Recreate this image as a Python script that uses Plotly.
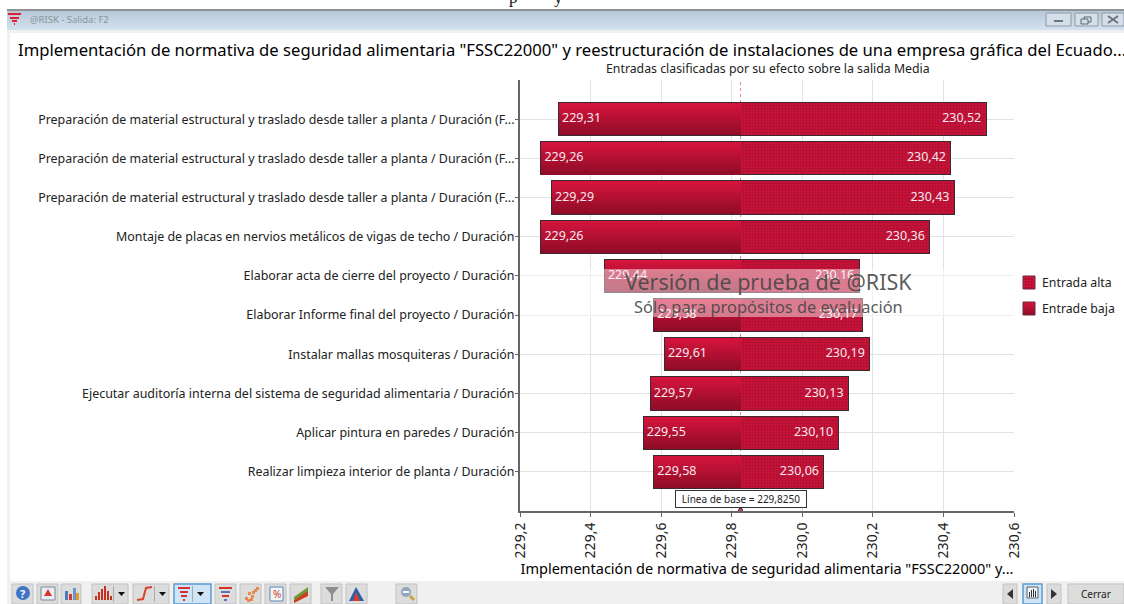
import plotly.graph_objects as go

W, H = 1124, 604
FONT = "Noto Sans"

title_text = 'Implementación de normativa de seguridad alimentaria "FSSC22000" y reestructuración de instalaciones de una empresa gráfica del Ecuado...'
subtitle_text = "Entradas clasificadas por su efecto sobre la salida Media"
axis_title = 'Implementación de normativa de seguridad alimentaria "FSSC22000" y...'
prep = "Preparación de material estructural y traslado desde taller a planta / Duración (F..."
categories = [
    prep, prep, prep,
    "Montaje de placas en nervios metálicos de vigas de techo / Duración",
    "Elaborar acta de cierre del proyecto / Duración",
    "Elaborar Informe final del proyecto / Duración",
    "Instalar mallas mosquiteras / Duración",
    "Ejecutar auditoría interna del sistema de seguridad alimentaria / Duración",
    "Aplicar pintura en paredes / Duración",
    "Realizar limpieza interior de planta / Duración",
]
low_values = [229.31, 229.26, 229.29, 229.26, 229.44, 229.58, 229.61, 229.57, 229.55, 229.58]
high_values = [230.52, 230.42, 230.43, 230.36, 230.16, 230.17, 230.19, 230.13, 230.10, 230.06]
baseline = 229.825
x_ticks = [229.2, 229.4, 229.6, 229.8, 230.0, 230.2, 230.4, 230.6]
x_tick_labels = ["229,2", "229,4", "229,6", "229,8", "230,0", "230,2", "230,4", "230,6"]
positions = list(range(len(categories)))
legend_high = "Entrada alta"
legend_low = "Entrade baja"


def fmt(v):
    return f"{v:.2f}".replace(".", ",")


def px(x):
    return x / W


def py(y):
    return 1 - y / H


shapes = []


def rect(x0, y0, x1, y1, fill, line=None, lw=1, layer="below"):
    shapes.append(dict(type="rect", xref="paper", yref="paper", layer=layer,
                       x0=px(x0), x1=px(x1), y0=py(y0), y1=py(y1), fillcolor=fill,
                       line=dict(color=line or "rgba(0,0,0,0)", width=lw if line else 0)))


def poly(pts, fill="rgba(0,0,0,0)", line=None, lw=1, closed=True):
    d = "M " + " L ".join(f"{px(a):.5f},{py(b):.5f}" for a, b in pts) + (" Z" if closed else "")
    shapes.append(dict(type="path", xref="paper", yref="paper", layer="below", path=d,
                       fillcolor=fill, line=dict(color=line or "rgba(0,0,0,0)", width=lw if line else 0)))


def circle(x0, y0, x1, y1, fill):
    shapes.append(dict(type="circle", xref="paper", yref="paper", layer="below",
                       x0=px(x0), x1=px(x1), y0=py(y0), y1=py(y1), fillcolor=fill, line=dict(width=0)))


# window chrome
rect(0, 0, W, H, "white")
rect(7, 9, W, 11, "#8f9396")
tb_top = (184, 201, 218)
tb_bot = (211, 225, 238)
for i in range(19):
    t = i / 18
    c = tuple(round(a + (b - a) * t) for a, b in zip(tb_top, tb_bot))
    rect(7, 11 + i, W, 12 + i, f"rgb{c}")
rect(7, 30, W, 33, "#eef0f2")
rect(7, 33, 10, 581, "#f0f0f0")
rect(7, 581, W, H, "#f0f0f0")
# title bar icon
rect(8, 13, 21, 15, "#e0202c")
rect(10, 17, 19, 19, "#e0202c")
rect(12, 20, 17, 22, "#e0202c")
rect(14, 23, 15, 25, "#e0202c")
# window buttons
for a, b in [(1046, 1071), (1075, 1098), (1102, 1124)]:
    rect(a, 13, b, 26, "#d5dfe9", "#8d9aa6")
rect(1054, 20, 1063, 22, "#6b7580")
rect(1084, 17, 1091, 22, "rgba(0,0,0,0)", "#5d6670")
rect(1081, 19, 1088, 24, "#d5dfe9", "#5d6670")
poly([(1108, 16), (1118, 23)], line="#6b7580", lw=2, closed=False)
poly([(1118, 16), (1108, 23)], line="#6b7580", lw=2, closed=False)

# toolbar buttons
BTN = "#dcdcdc"
BL = "#c2c2c2"
for a, b in [(12, 33), (37, 58), (61, 81), (92, 128), (133, 169), (215, 236), (240, 261),
             (265, 286), (290, 311), (321, 342), (346, 367), (396, 417), (1003, 1017),
             (1047, 1061), (1068, 1124)]:
    rect(a, 584, b, 604, BTN, BL)
rect(174, 584, 211, 604, "#cfe4f7", "#5c9bd1", 1.5)
rect(1023, 584, 1042, 604, "#cfe4f7", "#5c9bd1", 1.5)
circle(16, 586, 30, 600, "#3f74c6")
rect(41, 587, 55, 600, "#e8eef4", "#7c8894")
poly([(44, 596), (48, 589), (52, 596)], fill="#d8372c")
for a, b, c in [(65, 591, "#4f79b8"), (69, 594, "#d8372c"), (73, 588, "#6f94c9"), (76, 593, "#e09a2c")]:
    rect(a, b, a + 3, 600, c)
for a, b in [(95, 596), (98, 592), (101, 589), (104, 586), (107, 591), (110, 596)]:
    rect(a, b, a + 2, 600, "#c8301f")
poly([(137, 600), (143, 599), (146, 588), (152, 587)], line="#d8442c", lw=2, closed=False)
for bx in (118, 159, 197):
    poly([(bx, 592), (bx + 7, 592), (bx + 3.5, 596)], fill="#111111")
for a in (113, 154, 192):
    rect(a, 586, a + 1, 602, "#aaaaaa")
for a, b, y in [(178, 189, 587), (180, 187, 591), (181, 186, 595), (183, 184, 599)]:
    rect(a, y, b + 1, y + 2, "#d8302c")
for a, b, y, c in [(219, 232, 587, "#d8302c"), (221, 230, 591, "#5a78b8"), (222, 229, 595, "#d8302c"), (224, 227, 599, "#5a78b8")]:
    rect(a, y, b, y + 2, c)
for a, b in [(245, 597), (248, 592), (251, 595), (254, 589), (247, 599), (252, 591), (256, 587), (250, 598)]:
    rect(a, b, a + 3, b + 3, "#e58a4a")
rect(270, 587, 283, 601, "#f2f6fa", "#5c86b5")
poly([(294, 600), (308, 590), (308, 596), (294, 603)], fill="#c8401f")
poly([(294, 597), (308, 587), (308, 591), (294, 600)], fill="#6b9b3a")
poly([(325, 587), (339, 587), (333, 594), (333, 601), (331, 601), (331, 594)], fill="#8d8d8d")
poly([(349, 601), (356, 587), (364, 601)], fill="#2d5fa8")
poly([(353, 601), (356, 592), (360, 601)], fill="#d8402c")
circle(401, 587, 411, 597, "#8fa6bd")
poly([(410, 596), (414, 600)], line="#c4a63a", lw=3, closed=False)
rect(403, 591, 409, 593, "#ffffff")
poly([(1013, 589), (1007, 594), (1013, 599)], fill="#333333")
poly([(1051, 589), (1057, 594), (1051, 599)], fill="#333333")
rect(1027, 587, 1038, 598, "#eef4fa", "#55606b")
for a, b in [(1029, 592), (1031, 590), (1033, 589), (1035, 591)]:
    rect(a, b, a + 1, 597, "#333333")

# legend keys
rect(1023, 276, 1035, 289, "#d0143c", "#6a2a3a")
for ky in range(278, 288, 3):
    for kx in range(1025, 1034, 3):
        rect(kx, ky, kx + 1.5, ky + 1.5, "#8a0a28")
for i in range(13):
    t = i / 12
    c = tuple(round(a + (b - a) * t) for a, b in zip((212, 20, 60), (145, 12, 40)))
    rect(1023, 302 + i, 1035, 303 + i, f"rgb{c}")
rect(1023, 302, 1035, 315, "rgba(0,0,0,0)", "#6a2a3a")

# plot decoration
shapes.append(dict(type="line", xref="x", yref="paper", layer="below", x0=baseline, x1=baseline,
                   y0=py(511), y1=py(80), line=dict(color="#e8809a", width=1, dash="dot")))
# trial watermark band over the plot
rect(520, 269, 1014, 317, "rgba(255,255,255,0.45)", layer="above")

fig = go.Figure()

high_dx = [v - baseline for v in high_values]
low_dx = [v - baseline for v in low_values]
BAR_W = 0.82
EDGE = dict(color="#3a2a2e", width=2)

for dx in (high_dx, low_dx):
    fig.add_trace(go.Bar(y=positions, x=dx, base=baseline, orientation="h", width=BAR_W, showlegend=False,
                         marker=dict(color="#3a2a2e", line=EDGE), hoverinfo="skip"))

fig.add_trace(go.Bar(
    y=positions, x=high_dx, base=baseline, orientation="h", width=BAR_W, name=legend_high, showlegend=False,
    marker=dict(color="#d0143c", line=dict(width=0),
                pattern=dict(shape=".", size=3, solidity=0.5, fgcolor="#8a0a28", bgcolor="#d0143c")),
    hoverinfo="skip",
))

N = 12
top, bot = (212, 20, 60), (145, 12, 40)
for i in range(N):
    t = i / (N - 1)
    c = tuple(round(a + (b - a) * t) for a, b in zip(top, bot))
    fig.add_trace(go.Bar(
        y=positions, x=low_dx, base=baseline, orientation="h", width=BAR_W / N + 0.002,
        offset=-BAR_W / 2 + i * BAR_W / N, marker=dict(color=f"rgb{c}", line=dict(width=0)),
        name=legend_low, showlegend=False, hoverinfo="skip",
    ))
LABEL = dict(family=FONT, size=12.5, color="#f6e8ec")
fig.add_trace(go.Scatter(x=low_values, y=positions, mode="text", text=["\u00a0" + fmt(v) for v in low_values],
                         textposition="middle right", textfont=LABEL, showlegend=False, hoverinfo="skip"))
fig.add_trace(go.Scatter(x=high_values, y=positions, mode="text", text=[fmt(v) + "\u00a0\u200a" for v in high_values],
                         textposition="middle left", textfont=LABEL, showlegend=False, hoverinfo="skip"))
fig.add_trace(go.Scatter(x=[baseline], y=[9.98], mode="markers", cliponaxis=False, showlegend=False,
                         marker=dict(color="#d0406a", size=4, line=dict(color="#333", width=1)), hoverinfo="skip"))

annotations = [
    dict(text=subtitle_text, xref="paper", yref="paper", x=px(768), y=py(69), showarrow=False,
         font=dict(family=FONT, size=12.3, color="#222222"), xanchor="center", yanchor="middle"),
    dict(text="Versión de prueba de @RISK", xref="paper", yref="paper", x=px(768), y=py(281), showarrow=False,
         font=dict(family=FONT, size=21.5, color="rgba(70,70,70,0.9)"), xanchor="center", yanchor="middle"),
    dict(text="Sólo para propósitos de evaluación", xref="paper", yref="paper", x=px(768), y=py(306), showarrow=False,
         font=dict(family=FONT, size=16.4, color="rgba(70,70,70,0.9)"), xanchor="center", yanchor="middle"),
    dict(text="Línea de base = 229,8250", xref="x", yref="paper", x=baseline, y=py(499), showarrow=False,
         font=dict(family=FONT, size=10, color="#222222"), bgcolor="white", bordercolor="#333333",
         borderwidth=1, borderpad=1, xanchor="center", yanchor="middle", width=128),
    dict(text=legend_high, xref="paper", yref="paper", x=px(1040), y=py(282), showarrow=False,
         font=dict(family=FONT, size=12.3, color="#222222"), xanchor="left", yanchor="middle"),
    dict(text=legend_low, xref="paper", yref="paper", x=px(1040), y=py(308), showarrow=False,
         font=dict(family=FONT, size=12.3, color="#222222"), xanchor="left", yanchor="middle"),
    dict(text="@RISK - Salida: F2", xref="paper", yref="paper", x=px(28), y=py(20), showarrow=False,
         font=dict(family=FONT, size=9.5, color="#8a949e"), xanchor="left", yanchor="middle"),
    dict(text="Cerrar", xref="paper", yref="paper", x=px(1096), y=py(594), showarrow=False,
         font=dict(family=FONT, size=10, color="#222222"), xanchor="center", yanchor="middle"),
    dict(text="<b>?</b>", xref="paper", yref="paper", x=px(23), y=py(593), showarrow=False,
         font=dict(family=FONT, size=11, color="white"), xanchor="center", yanchor="middle"),
    dict(text="%", xref="paper", yref="paper", x=px(276.5), y=py(594), showarrow=False,
         font=dict(family=FONT, size=10, color="#c8401f"), xanchor="center", yanchor="middle"),
    dict(text="p", xref="paper", yref="paper", x=px(513), y=py(9), showarrow=False,
         font=dict(family="Liberation Serif", size=17, color="#111"), xanchor="center", yanchor="bottom"),
    dict(text="y", xref="paper", yref="paper", x=px(558), y=py(9), showarrow=False,
         font=dict(family="Liberation Serif", size=17, color="#111"), xanchor="center", yanchor="bottom"),
]

fig.update_layout(
    width=W, height=H, autosize=False, margin=dict(l=0, r=0, t=0, b=0, autoexpand=False),
    paper_bgcolor="white", plot_bgcolor="#f4f4f4", barmode="overlay", bargap=0,
    separators=", ", showlegend=False,
    font=dict(family=FONT, color="#111111"),
    title=dict(text=title_text, x=px(18), xanchor="left", y=py(50), yanchor="middle", xref="paper",
               font=dict(family=FONT, size=16.65, color="#000000")),
    xaxis=dict(domain=[px(520), px(1014)], range=[229.2, 230.6], tickvals=x_ticks, ticktext=x_tick_labels,
               tickangle=-90, ticks="outside", ticklen=4, tickcolor="#666666", showline=True,
               linecolor="#666666", linewidth=2, gridcolor="#e2e2e2", zeroline=False,
               tickfont=dict(family=FONT, size=14, color="#222222"),
               title=dict(text=axis_title, standoff=0, font=dict(family=FONT, size=14.5, color="#000000"))),
    yaxis=dict(domain=[py(511), py(80)], range=[10, -1], tickvals=positions, ticktext=categories,
               ticks="outside", ticklen=3, tickcolor="#666666", showline=True, linecolor="#666666",
               linewidth=2, gridcolor="#e2e2e2", zeroline=False, ticklabelstandoff=-2,
               tickfont=dict(family=FONT, size=12.45, color="#222222")),
    shapes=shapes, annotations=annotations,
)

fig.write_html("out.html", config={"displayModeBar": False},
               post_script="document.body.style.margin='0';document.documentElement.style.overflow='hidden';")
